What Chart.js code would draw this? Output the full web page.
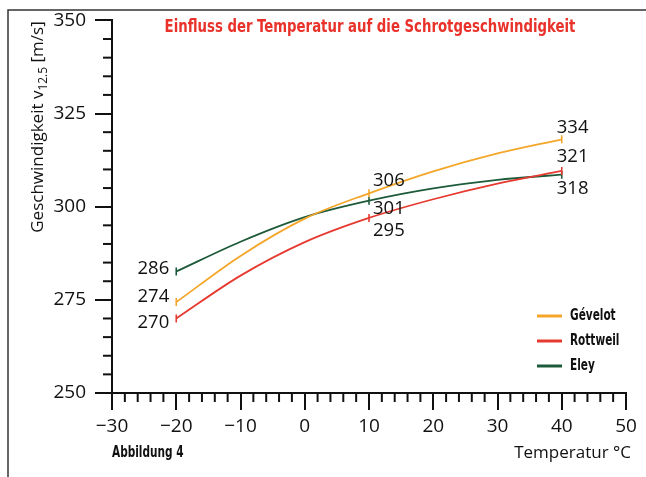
<!DOCTYPE html>
<html>
<head>
<meta charset="utf-8">
<script src="https://cdn.jsdelivr.net/npm/chart.js@4.4.1/dist/chart.umd.min.js"></script>
<style>
html, body { margin: 0; padding: 0; background: #fff; }
#wrap { width: 646px; height: 477px; }
</style>
</head>
<body>
<div id="wrap"><canvas id="chart"></canvas></div>
<script>
var serienNamen = ['Gévelot', 'Rottweil', 'Eley'];
// Messpunkte (Temperatur in °C) und ihre Beschriftung
var messTemperaturen = [-20, 10, 40];
var gevelotWerte = [274, 306, 334];
var rottweilWerte = [270, 295, 321];
var eleyWerte = [286, 301, 318];
var verlaufTemperaturen = [-20, -10, 0, 10, 20, 30, 40];
var gevelotVerlauf = [274.4, 286.8, 296.8, 303.6, 309.5, 314.3, 318.1];
var rottweilVerlauf = [270.0, 281.5, 290.5, 297.0, 302.0, 306.2, 309.6];
var eleyVerlauf = [282.6, 290.6, 297.2, 301.6, 304.9, 307.2, 308.6];

var farben = ['#f4a62a', '#e63a30', '#1d5a3a'];
// Versatz der Zahlen zum Punkt (dx, dy, Ausrichtung)
var versatz = [
    [[-7, -5, 'right'], [4, -13, 'left'], [-5, -12, 'left']],
    [[-7, 4, 'right'], [4, 13, 'left'], [-5, -14, 'left']],
    [[-7, -3, 'right'], [4, 8, 'left'], [-5, 14, 'left']]
];

var verlauf = [gevelotVerlauf, rottweilVerlauf, eleyVerlauf];
var beschriftung = [gevelotWerte, rottweilWerte, eleyWerte];

function istMesspunkt(c) {
    return c.raw && messTemperaturen.indexOf(c.raw.x) >= 0 ? 4 : 0;
}

var datasets = [];
for (var s = 0; s < serienNamen.length; s++) {
    var punkte = [];
    for (var i = 0; i < verlaufTemperaturen.length; i++) {
        punkte.push({ x: verlaufTemperaturen[i], y: verlauf[s][i] });
    }
    datasets.push({
        label: serienNamen[s],
        data: punkte,
        borderColor: farben[s],
        backgroundColor: farben[s],
        borderWidth: 1.8,
        cubicInterpolationMode: 'monotone',
        pointStyle: 'line',
        pointRotation: 90,
        pointRadius: istMesspunkt,
        pointBorderWidth: 1.6,
        pointBorderColor: farben[s]
    });
}

var schmal = '"Liberation Sans Narrow", "DejaVu Sans Condensed", sans-serif';
var normal = '"Open Sans", "DejaVu Sans", sans-serif';

function linie(ctx, x1, y1, x2, y2) {
    ctx.beginPath();
    ctx.moveTo(x1, y1);
    ctx.lineTo(x2, y2);
    ctx.stroke();
}

// schmaler Text, horizontal gestaucht
function schmalText(ctx, text, x, y, size, faktor, align) {
    ctx.save();
    ctx.font = 'bold ' + size + 'px ' + schmal;
    var w = ctx.measureText(text).width * faktor;
    var x0 = align === 'center' ? x - w / 2 : x;
    ctx.translate(x0, y);
    ctx.scale(faktor, 1);
    ctx.textAlign = 'left';
    ctx.textBaseline = 'middle';
    ctx.fillText(text, 0, 0);
    ctx.restore();
}

var deko = {
    id: 'deko',
    beforeDraw: function (chart) {
        var ctx = chart.ctx;
        ctx.save();
        ctx.strokeStyle = '#333';
        ctx.lineWidth = 1.5;
        ctx.beginPath();
        ctx.moveTo(8, 477);
        ctx.lineTo(8, 10);
        ctx.lineTo(646, 10);
        ctx.stroke();
        ctx.restore();
    },
    afterDraw: function (chart) {
        var ctx = chart.ctx, xs = chart.scales.x, ys = chart.scales.y;
        ctx.save();
        // kleine Striche
        ctx.strokeStyle = '#111';
        ctx.lineWidth = 2;
        for (var v = -30; v <= 50; v += 2) {
            if (v % 10 === 0) continue;
            var px = xs.getPixelForValue(v);
            linie(ctx, px, ys.bottom, px, ys.bottom + 9);
        }
        for (var w = 250; w <= 350; w += 5) {
            if (w % 25 === 0) continue;
            var py = ys.getPixelForValue(w);
            linie(ctx, xs.left - 9, py, xs.left, py);
        }

        // Zahlen an den Messpunkten
        ctx.fillStyle = '#111';
        ctx.font = '18.5px ' + normal;
        ctx.textBaseline = 'middle';
        for (var s = 0; s < chart.data.datasets.length; s++) {
            var meta = chart.getDatasetMeta(s);
            for (var i = 0; i < messTemperaturen.length; i++) {
                var idx = verlaufTemperaturen.indexOf(messTemperaturen[i]);
                var p = meta.data[idx], o = versatz[s][i];
                ctx.textAlign = o[2];
                ctx.fillText(String(beschriftung[s][i]), p.x + o[0], p.y + o[1]);
            }
        }

        // Titel
        ctx.fillStyle = '#e8322a';
        schmalText(ctx, 'Einfluss der Temperatur auf die Schrotgeschwindigkeit', 370, 27, 18, 0.82, 'center');

        // Legende
        for (var k = 0; k < serienNamen.length; k++) {
            var ly = 316 + k * 25;
            ctx.strokeStyle = farben[k];
            ctx.lineWidth = 3;
            linie(ctx, 537, ly, 562, ly);
            ctx.fillStyle = '#111';
            schmalText(ctx, serienNamen[k], 570, ly, 15, 0.78, 'left');
        }

        // Fußzeile
        schmalText(ctx, 'Abbildung 4', 112, 453, 15, 0.78, 'left');
        ctx.font = '17px ' + normal;
        ctx.textAlign = 'right';
        ctx.textBaseline = 'middle';
        ctx.fillText('Temperatur °C', 631, 453);

        // y-Achsentitel mit Index
        ctx.translate(37, 127);
        ctx.rotate(-Math.PI / 2);
        var t1 = 'Geschwindigkeit v', t2 = '12.5', t3 = ' [m/s]';
        ctx.font = '17px ' + normal;
        var w1 = ctx.measureText(t1).width, w3 = ctx.measureText(t3).width;
        ctx.font = '12px ' + normal;
        var w2 = ctx.measureText(t2).width;
        var x0 = -(w1 + w2 + w3) / 2;
        ctx.textAlign = 'left';
        ctx.textBaseline = 'alphabetic';
        ctx.font = '17px ' + normal;
        ctx.fillText(t1, x0, 6);
        ctx.font = '12px ' + normal;
        ctx.fillText(t2, x0 + w1, 10);
        ctx.font = '17px ' + normal;
        ctx.fillText(t3, x0 + w1 + w2, 6);
        ctx.restore();
    }
};

var ctx = document.getElementById('chart').getContext('2d');
var chart = new Chart(ctx, {
    type: 'line',
    data: { datasets: datasets },
    options: {
        responsive: true,
        maintainAspectRatio: false,
        animation: false,
        layout: { padding: { top: 19.5, right: 20, left: 0, bottom: 0 } },
        plugins: {
            legend: { display: false },
            tooltip: { enabled: false }
        },
        scales: {
            x: {
                type: 'linear',
                min: -30,
                max: 50,
                afterFit: function (scale) { scale.height = 84; },
                grid: { drawOnChartArea: false, tickLength: 17, color: '#111', lineWidth: 2 },
                border: { color: '#111', width: 2 },
                ticks: {
                    stepSize: 10,
                    padding: 5,
                    color: '#111',
                    font: { family: normal, size: 19 },
                    callback: function (v) { return String(v).replace('-', '\u2212'); }
                }
            },
            y: {
                min: 250,
                max: 350,
                afterFit: function (scale) { scale.width = 112; },
                grid: { drawOnChartArea: false, tickLength: 17, color: '#111', lineWidth: 2 },
                border: { color: '#111', width: 2 },
                ticks: {
                    stepSize: 25,
                    padding: 9,
                    color: '#111',
                    font: { family: normal, size: 19 }
                }
            }
        }
    },
    plugins: [deko]
});
</script>
</body>
</html>
